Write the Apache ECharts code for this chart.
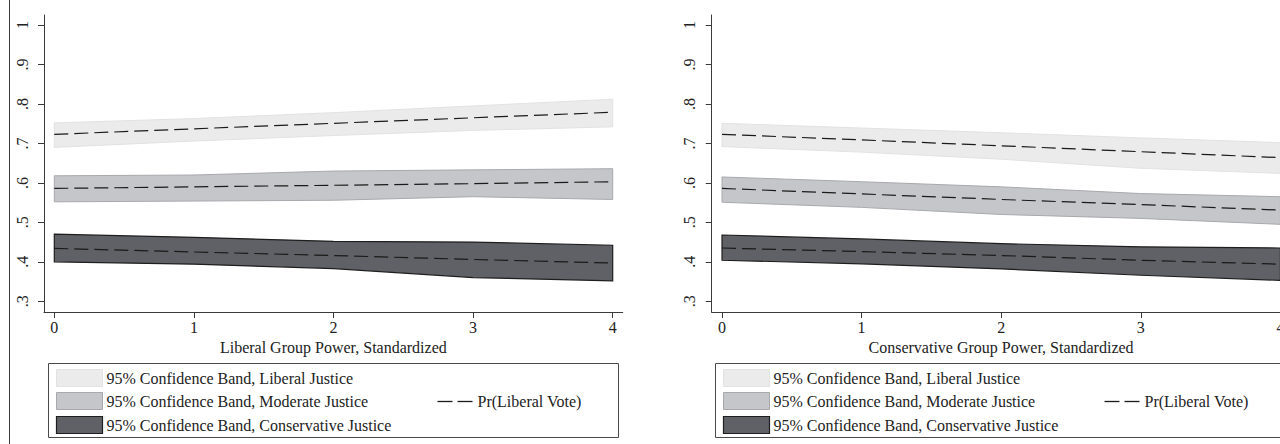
<!DOCTYPE html>
<html>
<head>
<meta charset="utf-8">
<script src="https://cdn.jsdelivr.net/npm/echarts@6/dist/echarts.min.js"></script>
<style>
  html, body { margin: 0; padding: 0; background: #fff; }
  #chart { width: 1280px; height: 444px; }
</style>
</head>
<body>
<div id="chart"></div>
<script>
// ---------- data ----------
const xVals = [0, 1, 2, 3, 4];
const xTicks = [0, 1, 2, 3, 4];
const yTicks = [0.3, 0.4, 0.5, 0.6, 0.7, 0.8, 0.9, 1];

const xTitles = ['Liberal Group Power, Standardized', 'Conservative Group Power, Standardized'];
const bandLabels = [
  '95% Confidence Band, Liberal Justice',
  '95% Confidence Band, Moderate Justice',
  '95% Confidence Band, Conservative Justice'
];
const lineLabel = 'Pr(Liberal Vote)';

// Left panel: Liberal group power
const libUpperL = [0.752, 0.763, 0.778, 0.795, 0.812];
const libLowerL = [0.690, 0.706, 0.720, 0.733, 0.742];
const libLineL  = [0.723, 0.737, 0.751, 0.765, 0.779];
const modUpperL = [0.618, 0.620, 0.630, 0.633, 0.636];
const modLowerL = [0.552, 0.554, 0.556, 0.565, 0.558];
const modLineL  = [0.586, 0.590, 0.594, 0.598, 0.603];
const conUpperL = [0.470, 0.462, 0.452, 0.450, 0.442];
const conLowerL = [0.400, 0.394, 0.383, 0.360, 0.352];
const conLineL  = [0.434, 0.425, 0.416, 0.406, 0.397];

// Right panel: Conservative group power
const libUpperR = [0.751, 0.739, 0.727, 0.714, 0.702];
const libLowerR = [0.692, 0.678, 0.660, 0.637, 0.624];
const libLineR  = [0.723, 0.709, 0.694, 0.679, 0.664];
const modUpperR = [0.615, 0.603, 0.590, 0.573, 0.565];
const modLowerR = [0.551, 0.538, 0.520, 0.510, 0.495];
const modLineR  = [0.586, 0.572, 0.558, 0.545, 0.531];
const conUpperR = [0.468, 0.458, 0.446, 0.438, 0.435];
const conLowerR = [0.404, 0.395, 0.382, 0.366, 0.353];
const conLineR  = [0.435, 0.426, 0.416, 0.404, 0.394];

// ---------- styles ----------
const FONT = "'Liberation Serif', 'Times New Roman', 'DejaVu Serif', serif";
const FS = 16;
const bandStyles = [
  { fill: '#ebebeb', stroke: '#e2e2e2', lineWidth: 1 },
  { fill: '#c5c6ca', stroke: '#a8a9ad', lineWidth: 1 },
  { fill: '#606166', stroke: '#1e1e1e', lineWidth: 1.2 }
];
const axisColor = '#3a3a3a';

function bandSeries(idx, upper, lower, style) {
  return {
    type: 'custom',
    xAxisIndex: idx, yAxisIndex: idx,
    data: [[0]],
    silent: true,
    renderItem: function (params, api) {
      const pts = [];
      for (let i = 0; i < xVals.length; i++) pts.push(api.coord([xVals[i], upper[i]]));
      for (let i = xVals.length - 1; i >= 0; i--) pts.push(api.coord([xVals[i], lower[i]]));
      return { type: 'polygon', shape: { points: pts }, style: { fill: style.fill, stroke: style.stroke, lineWidth: style.lineWidth } };
    }
  };
}
function lineSeries(idx, vals) {
  return {
    type: 'line', xAxisIndex: idx, yAxisIndex: idx,
    data: xVals.map((x, i) => [x, vals[i]]),
    symbol: 'none', silent: true,
    lineStyle: { color: '#1a1a1a', width: 1.2, type: [14, 6] },
    z: 5
  };
}

function xAxisFor(idx) {
  return {
    type: 'value', gridIndex: idx, min: -0.0738, max: 4.0716,
    name: xTitles[idx], nameLocation: 'middle', nameGap: 22,
    nameTextStyle: { fontFamily: FONT, fontSize: FS, color: '#222' },
    axisLine: { show: true, onZero: false, lineStyle: { color: axisColor, width: 1 } },
    axisTick: { show: true, length: 6, inside: false, customValues: xTicks, lineStyle: { color: axisColor } },
    axisLabel: { show: true, margin: 7, customValues: xTicks, fontFamily: FONT, fontSize: FS, color: '#222',
      hideOverlap: false, formatter: v => String(v) },
    splitLine: { show: false }
  };
}
function yAxisFor(idx) {
  return {
    type: 'value', gridIndex: idx, min: 0.2729, max: 1.0254,
    axisLine: { show: true, onZero: false, lineStyle: { color: axisColor, width: 1 } },
    axisTick: { show: true, length: 6, customValues: yTicks, lineStyle: { color: axisColor } },
    axisLabel: { show: true, rotate: 90, margin: 14, customValues: yTicks, fontFamily: FONT, fontSize: FS, color: '#222',
      formatter: v => (Math.abs(v - 1) < 1e-9 ? '1' : '.' + Math.round(v * 10)) },
    splitLine: { show: false }
  };
}

function legendGraphics(x0) {
  const els = [];
  const y0 = 363.5;
  els.push({ type: 'rect', shape: { x: x0, y: y0, width: 570, height: 74 },
    style: { fill: '#fff', stroke: '#4a4a4a', lineWidth: 1 }, z: 1 });
  const rowsY = [369.5, 392.5, 416.5];
  const rowsC = [378, 401, 425];
  for (let i = 0; i < 3; i++) {
    els.push({ type: 'rect', shape: { x: x0 + 8, y: rowsY[i], width: 46, height: 17 },
      style: { fill: bandStyles[i].fill, stroke: bandStyles[i].stroke, lineWidth: bandStyles[i].lineWidth }, z: 2 });
    els.push({ type: 'text', x: x0 + 58, y: rowsC[i], z: 2,
      style: { text: bandLabels[i], fontFamily: FONT, fontSize: FS, fill: '#222', verticalAlign: 'middle', align: 'left' } });
  }
  els.push({ type: 'line', shape: { x1: x0 + 389, y1: 401.5, x2: x0 + 404, y2: 401.5 }, style: { stroke: '#1a1a1a', lineWidth: 1.3 }, z: 2 });
  els.push({ type: 'line', shape: { x1: x0 + 409, y1: 401.5, x2: x0 + 424, y2: 401.5 }, style: { stroke: '#1a1a1a', lineWidth: 1.3 }, z: 2 });
  els.push({ type: 'text', x: x0 + 429, y: 401, z: 2,
    style: { text: lineLabel, fontFamily: FONT, fontSize: FS, fill: '#222', verticalAlign: 'middle', align: 'left' } });
  return els;
}

const chart = echarts.init(document.getElementById('chart'), null, { renderer: 'svg', width: 1280, height: 444 });
const option = {
  backgroundColor: '#fff',
  animation: false,
  grid: [
    { left: 44, top: 15, width: 578.7, height: 297, outerBoundsMode: 'none', containLabel: false },
    { left: 711.7, top: 15, width: 578.7, height: 297, outerBoundsMode: 'none', containLabel: false }
  ],
  xAxis: [xAxisFor(0), xAxisFor(1)],
  yAxis: [yAxisFor(0), yAxisFor(1)],
  series: [
    bandSeries(0, libUpperL, libLowerL, bandStyles[0]),
    bandSeries(0, modUpperL, modLowerL, bandStyles[1]),
    bandSeries(0, conUpperL, conLowerL, bandStyles[2]),
    lineSeries(0, libLineL), lineSeries(0, modLineL), lineSeries(0, conLineL),
    bandSeries(1, libUpperR, libLowerR, bandStyles[0]),
    bandSeries(1, modUpperR, modLowerR, bandStyles[1]),
    bandSeries(1, conUpperR, conLowerR, bandStyles[2]),
    lineSeries(1, libLineR), lineSeries(1, modLineR), lineSeries(1, conLineR)
  ],
  graphic: [
    { type: 'line', shape: { x1: 9.5, y1: 0, x2: 9.5, y2: 444 }, style: { stroke: '#3a3a3a', lineWidth: 1 } }
  ].concat(legendGraphics(48.5), legendGraphics(715.5))
};
chart.setOption(option);
</script>
</body>
</html>
